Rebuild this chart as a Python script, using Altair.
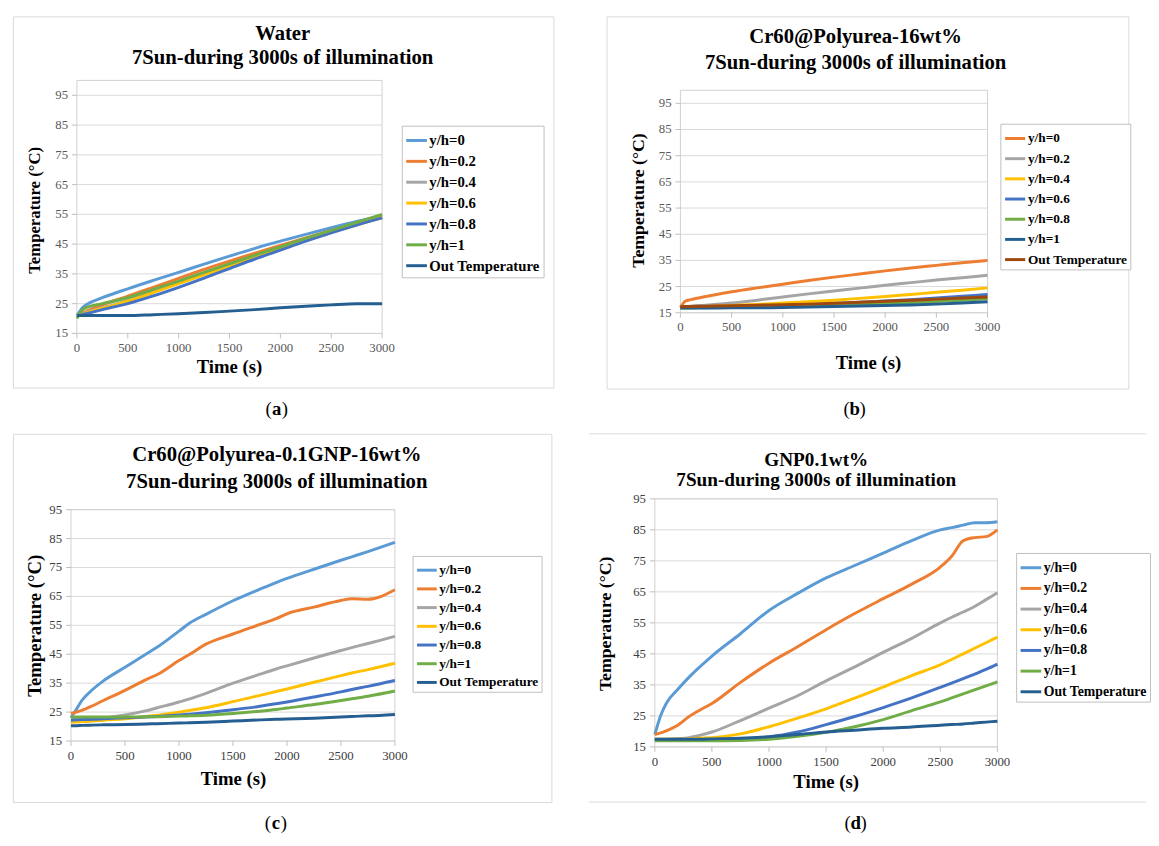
import altair as alt
import pandas as pd

SERIF = "Liberation Serif"

SERIES = ["y/h=0", "y/h=0.2", "y/h=0.4", "y/h=0.6", "y/h=0.8", "y/h=1", "Out Temperature"]
COLORS_MAIN = ["#5B9BD5", "#ED7D31", "#A5A5A5", "#FFC000", "#4472C4", "#70AD47", "#255E91"]
COLORS_B = ["#ED7D31", "#A5A5A5", "#FFC000", "#4472C4", "#70AD47", "#255E91", "#9E480E"]
Y_TICKS = [15, 25, 35, 45, 55, 65, 75, 85, 95]
X_TICKS = [0, 500, 1000, 1500, 2000, 2500, 3000]

# ---------------- (a) Water ----------------
TIME_A = [0, 50, 100, 250, 500, 750, 1000, 1250, 1500, 1750, 2000, 2250, 2500, 2750, 3000]
A_YH0 = [21.0, 23.5, 24.8, 27.0, 30.0, 32.8, 35.5, 38.3, 41.0, 43.6, 46.0, 48.3, 50.5, 52.6, 54.5]
A_YH02 = [21.0, 21.8, 22.6, 24.6, 27.5, 30.5, 33.5, 36.5, 39.3, 42.0, 44.6, 47.1, 49.5, 51.8, 54.0]
A_YH04 = [21.0, 21.5, 22.2, 23.6, 26.0, 29.0, 32.0, 35.0, 38.0, 41.0, 43.8, 46.5, 49.1, 51.6, 54.0]
A_YH06 = [21.0, 21.4, 22.0, 23.4, 25.8, 28.7, 31.7, 34.7, 37.7, 40.7, 43.6, 46.4, 49.0, 51.5, 53.9]
A_YH08 = [21.0, 21.3, 21.7, 23.0, 25.0, 27.6, 30.5, 33.6, 36.8, 40.0, 43.0, 46.0, 48.8, 51.4, 53.8]
A_YH1 = [20.0, 22.8, 23.8, 25.0, 27.0, 29.8, 32.6, 35.5, 38.4, 41.3, 44.1, 46.9, 49.6, 52.3, 55.0]
A_OUT = [21.0, 21.0, 21.0, 21.0, 21.0, 21.3, 21.6, 22.0, 22.5, 23.0, 23.6, 24.1, 24.6, 25.0, 25.0]

# ---------------- (b) Cr60@Polyurea-16wt% ----------------
TIME_B = [0, 50, 100, 250, 500, 750, 1000, 1250, 1500, 1750, 2000, 2250, 2500, 2750, 3000]
B_YH0 = [17.0, 19.5, 20.0, 21.2, 23.0, 24.5, 25.9, 27.3, 28.6, 29.8, 31.0, 32.1, 33.1, 34.1, 35.0]
B_YH02 = [17.0, 17.3, 17.5, 17.9, 18.7, 19.8, 21.0, 22.2, 23.3, 24.4, 25.5, 26.5, 27.5, 28.4, 29.3]
B_YH04 = [17.0, 17.1, 17.2, 17.4, 17.8, 18.2, 18.7, 19.2, 19.8, 20.5, 21.2, 22.0, 22.8, 23.6, 24.5]
B_YH06 = [17.0, 17.0, 17.0, 17.1, 17.3, 17.5, 17.7, 18.0, 18.5, 19.0, 19.5, 20.0, 20.6, 21.3, 22.0]
B_YH08 = [16.8, 16.8, 16.8, 16.9, 17.0, 17.1, 17.3, 17.6, 17.9, 18.2, 18.5, 18.9, 19.3, 19.8, 20.3]
B_YH1 = [16.8, 16.8, 16.8, 16.8, 16.9, 16.9, 17.0, 17.2, 17.4, 17.6, 17.8, 18.0, 18.3, 18.7, 19.2]
B_OUT = [17.3, 17.4, 17.4, 17.5, 17.7, 17.9, 18.1, 18.3, 18.6, 19.0, 19.4, 19.8, 20.2, 20.6, 21.0]

# ---------------- (c) Cr60@Polyurea-0.1GNP-16wt% ----------------
TIME_C = [0, 50, 100, 200, 300, 500, 700, 800, 1000, 1100, 1250, 1500, 1750, 1900, 2000, 2250, 2500, 2600, 2750, 3000]
C_YH0 = [23.0, 26.0, 29.0, 32.8, 35.8, 40.5, 45.2, 47.5, 53.0, 55.8, 58.8, 63.5, 67.5, 69.8, 71.2, 74.4, 77.5, 78.7, 80.5, 83.7]
C_YH02 = [24.5, 25.0, 25.6, 27.2, 29.0, 32.5, 36.3, 38.0, 42.8, 45.0, 48.5, 52.0, 55.3, 57.3, 59.0, 61.3, 63.6, 64.2, 64.0, 67.3]
C_YH04 = [22.5, 22.5, 22.6, 22.8, 23.0, 24.0, 25.5, 26.5, 28.5, 29.6, 31.5, 35.0, 38.1, 39.9, 41.0, 43.7, 46.3, 47.3, 48.7, 51.2]
C_YH06 = [21.5, 21.6, 21.7, 21.9, 22.2, 22.7, 23.5, 23.9, 25.0, 25.6, 26.5, 28.6, 30.8, 32.1, 33.0, 35.3, 37.6, 38.5, 39.7, 41.9]
C_YH08 = [22.2, 22.3, 22.4, 22.5, 22.7, 23.0, 23.3, 23.5, 24.0, 24.3, 24.8, 25.8, 27.0, 27.9, 28.5, 30.2, 32.0, 32.8, 33.9, 35.9]
C_YH1 = [23.3, 23.3, 23.3, 23.3, 23.3, 23.3, 23.4, 23.4, 23.6, 23.7, 23.9, 24.5, 25.3, 25.9, 26.4, 27.6, 29.0, 29.6, 30.5, 32.3]
C_OUT = [20.3, 20.3, 20.4, 20.5, 20.6, 20.7, 20.9, 21.0, 21.2, 21.3, 21.5, 21.9, 22.3, 22.5, 22.6, 22.9, 23.3, 23.5, 23.7, 24.2]

# ---------------- (d) GNP0.1wt% ----------------
TIME_D = [0, 50, 100, 200, 300, 400, 500, 750, 1000, 1250, 1500, 1750, 2000, 2250, 2500, 2600, 2700, 2800, 2900, 3000]
D_YH0 = [19.0, 25.0, 29.0, 33.5, 37.5, 41.0, 44.3, 51.5, 59.0, 64.5, 69.5, 73.5, 77.5, 81.5, 85.0, 85.7, 86.5, 87.3, 87.3, 87.6]
D_YH02 = [19.0, 19.5, 20.2, 22.0, 24.8, 27.0, 29.0, 35.8, 42.0, 47.3, 52.8, 58.0, 62.8, 67.5, 73.0, 76.5, 81.5, 82.5, 82.8, 85.0]
D_YH04 = [17.5, 17.5, 17.5, 17.7, 18.0, 18.8, 19.8, 23.5, 27.5, 31.5, 36.3, 40.8, 45.5, 50.0, 55.0, 56.8, 58.5, 60.3, 62.5, 64.7]
D_YH06 = [17.5, 17.5, 17.5, 17.5, 17.6, 17.8, 18.0, 19.2, 21.5, 24.3, 27.3, 30.7, 34.3, 38.0, 41.5, 43.2, 45.0, 46.8, 48.6, 50.4]
D_YH08 = [17.3, 17.3, 17.3, 17.3, 17.3, 17.3, 17.4, 17.6, 18.2, 19.8, 22.2, 24.8, 27.7, 30.8, 34.2, 35.6, 37.0, 38.5, 40.0, 41.7]
D_YH1 = [17.0, 17.0, 17.0, 17.0, 17.0, 17.0, 17.0, 17.1, 17.5, 18.4, 19.7, 21.5, 23.8, 26.7, 29.5, 30.8, 32.1, 33.4, 34.7, 36.0]
D_OUT = [17.5, 17.5, 17.5, 17.5, 17.5, 17.5, 17.6, 17.8, 18.3, 19.0, 19.8, 20.4, 21.0, 21.4, 22.0, 22.2, 22.4, 22.7, 23.0, 23.3]

ONE = pd.DataFrame({"k": [0]})
GRID_COLOR = "#d9d9d9"


def txt(s, x, y, size, weight="bold", angle=0, color="#000000", align="center"):
    return alt.Chart(ONE).mark_text(
        text=s, font=SERIF, fontSize=size, fontWeight=weight, angle=angle,
        color=color, align=align, baseline="middle",
    ).encode(x=alt.value(x), y=alt.value(y))


def make_panel(times, vals, colors, ymax, W, H, plot, tick_color, titles, ytitle, xtitle,
               legend_cfg, letter, letter_pos, box=None):
    x0, x1, ytop, ybot = plot
    rows = []
    for name, series in zip(SERIES, vals):
        for t, v in zip(times, series):
            rows.append({"t": t, "T": v, "s": name})
    df = pd.DataFrame(rows)

    xs = alt.Scale(domain=[0, 3000], range=[x0, x1], nice=False, zero=False)
    ys = alt.Scale(domain=[15, ymax], range=[ybot, ytop], nice=False, zero=False)

    ydf = pd.DataFrame({"g": Y_TICKS})
    xdf = pd.DataFrame({"g": X_TICKS})

    grid = alt.Chart(ydf).mark_rule(color=GRID_COLOR, strokeWidth=1).encode(
        y=alt.Y("g:Q", scale=ys, axis=None),
        x=alt.X(datum=0, scale=xs, axis=None),
        x2=alt.X2(datum=3000),
    )
    frame = alt.Chart(ONE).mark_rect(fillOpacity=0, stroke="#d0d0d0", strokeWidth=1).encode(
        x=alt.X(datum=0, scale=xs, axis=None),
        x2=alt.X2(datum=3000),
        y=alt.Y(datum=15, scale=ys, axis=None),
        y2=alt.Y2(datum=ymax),
    )
    yticks = alt.Chart(ydf).mark_rule(color="#bfbfbf", strokeWidth=1).encode(
        y=alt.Y("g:Q", scale=ys, axis=None),
        x=alt.value(x0 - 5), x2=alt.value(x0),
    )
    xticks = alt.Chart(xdf).mark_rule(color="#bfbfbf", strokeWidth=1).encode(
        x=alt.X("g:Q", scale=xs, axis=None),
        y=alt.value(ybot), y2=alt.value(ybot + 5),
    )
    ylabels = alt.Chart(ydf).mark_text(font=SERIF, fontSize=13, color=tick_color,
                                       align="right", baseline="middle").encode(
        y=alt.Y("g:Q", scale=ys, axis=None),
        x=alt.value(x0 - 9),
        text=alt.Text("g:Q", format="d"),
    )
    xlabels = alt.Chart(xdf).mark_text(font=SERIF, fontSize=13, color=tick_color,
                                       align="center", baseline="middle").encode(
        x=alt.X("g:Q", scale=xs, axis=None),
        y=alt.value(ybot + 15),
        text=alt.Text("g:Q", format="d"),
    )

    lx, ly, lfs, ssize, rpad = legend_cfg
    lines = alt.Chart(df).mark_line(strokeWidth=3, interpolate="monotone").encode(
        x=alt.X("t:Q", scale=xs, axis=None),
        y=alt.Y("T:Q", scale=ys, axis=None),
        color=alt.Color(
            "s:N", sort=SERIES,
            scale=alt.Scale(domain=SERIES, range=colors),
            legend=alt.Legend(
                title=None, orient="none", legendX=lx, legendY=ly,
                symbolType="stroke", symbolStrokeWidth=3, symbolSize=ssize,
                labelFont=SERIF, labelFontSize=lfs, labelFontWeight="bold",
                labelColor="#000000", labelOffset=1, rowPadding=rpad, padding=3,
                strokeColor="#bfbfbf", fillColor="#ffffff", labelLimit=300,
            ),
        ),
    )

    (t1, t1x, t1y, t2, t2x, t2y, tfs) = titles
    layers = [grid, frame, yticks, xticks, ylabels, xlabels, lines,
              txt(t1, t1x, t1y, tfs), txt(t2, t2x, t2y, tfs)]
    yt_x, yt_y, yt_fs = ytitle
    layers.append(txt("Temperature (°C)", yt_x, yt_y, yt_fs, angle=270))
    xt_x, xt_y, xt_fs = xtitle
    layers.append(txt("Time (s)", xt_x, xt_y, xt_fs))
    cx, cy = letter_pos
    layers.append(txt("(", cx - 5, cy, 19, weight="normal", align="right"))
    layers.append(txt(letter, cx, cy, 19, weight="bold"))
    layers.append(txt(")", cx + 5, cy, 19, weight="normal", align="left"))
    if box is not None:
        bx0, bx1, by0, by1 = box
        layers.append(alt.Chart(ONE).mark_rule(color=GRID_COLOR, strokeWidth=1).encode(
            x=alt.value(bx0), x2=alt.value(bx1), y=alt.value(by0)))
        layers.append(alt.Chart(ONE).mark_rule(color=GRID_COLOR, strokeWidth=1).encode(
            x=alt.value(bx0), x2=alt.value(bx1), y=alt.value(by1)))

    ch = alt.layer(*layers).properties(width=W, height=H)
    if box is not None:
        ch = ch.properties(view=alt.ViewBackground(strokeOpacity=0))
    return ch


pa = make_panel(
    TIME_A, [A_YH0, A_YH02, A_YH04, A_YH06, A_YH08, A_YH1, A_OUT], COLORS_MAIN, 100,
    549, 377, (65, 375, 65, 322), "#595959",
    ("Water", 274, 18, "7Sun-during 3000s of illumination", 274, 42, 21),
    (23, 197, 17), (220, 356, 19), (395, 111, 15, 441, 1.2), "a", (268, 399))

pb = make_panel(
    TIME_B, [B_YH0, B_YH02, B_YH04, B_YH06, B_YH08, B_YH1, B_OUT], COLORS_B, 100,
    530, 378, (75, 387, 75, 301), "#595959",
    ("Cr60@Polyurea-16wt%", 253, 21, "7Sun-during 3000s of illumination", 253, 47, 21),
    (33, 187, 18), (266, 352, 19), (400, 109, 13.5, 416, 1.5), "b", (252, 399))

pc = make_panel(
    TIME_C, [C_YH0, C_YH02, C_YH04, C_YH06, C_YH08, C_YH1, C_OUT], COLORS_MAIN, 95,
    547, 374, (59, 388, 77, 312), "#404040",
    ("Cr60@Polyurea-0.1GNP-16wt%", 268, 22, "7Sun-during 3000s of illumination", 268, 49, 21),
    (23, 195, 19), (224, 351, 19), (406, 124, 13.5, 400, 1), "c", (267, 395))

# panel (d) group starts to the right of its visible box (no side borders)
pd_ = make_panel(
    TIME_D, [D_YH0, D_YH02, D_YH04, D_YH06, D_YH08, D_YH1, D_OUT], COLORS_MAIN, 95,
    540, 374, (49, 397, 66, 318), "#404040",
    ("GNP0.1wt%", 213, 27, "7Sun-during 3000s of illumination", 213, 47, 19.5),
    (-1, 193, 18), (223, 354, 19), (416, 121, 14, 441, 2), "d", (253, 395),
    box=(-18, 548, 0, 374))

chart = (
    alt.concat(pa, pb, pc, pd_, columns=2, spacing={"row": 46, "column": 54},
               bounds="flush", align="none")
    .resolve_scale(x="independent", y="independent", color="independent")
    .properties(padding={"left": 4, "top": 1, "right": 0, "bottom": 0}, background="#ffffff")
    .configure_view(stroke=GRID_COLOR, strokeWidth=1)
)

chart.save("out.html", embed_options={"renderer": "svg", "actions": False})
